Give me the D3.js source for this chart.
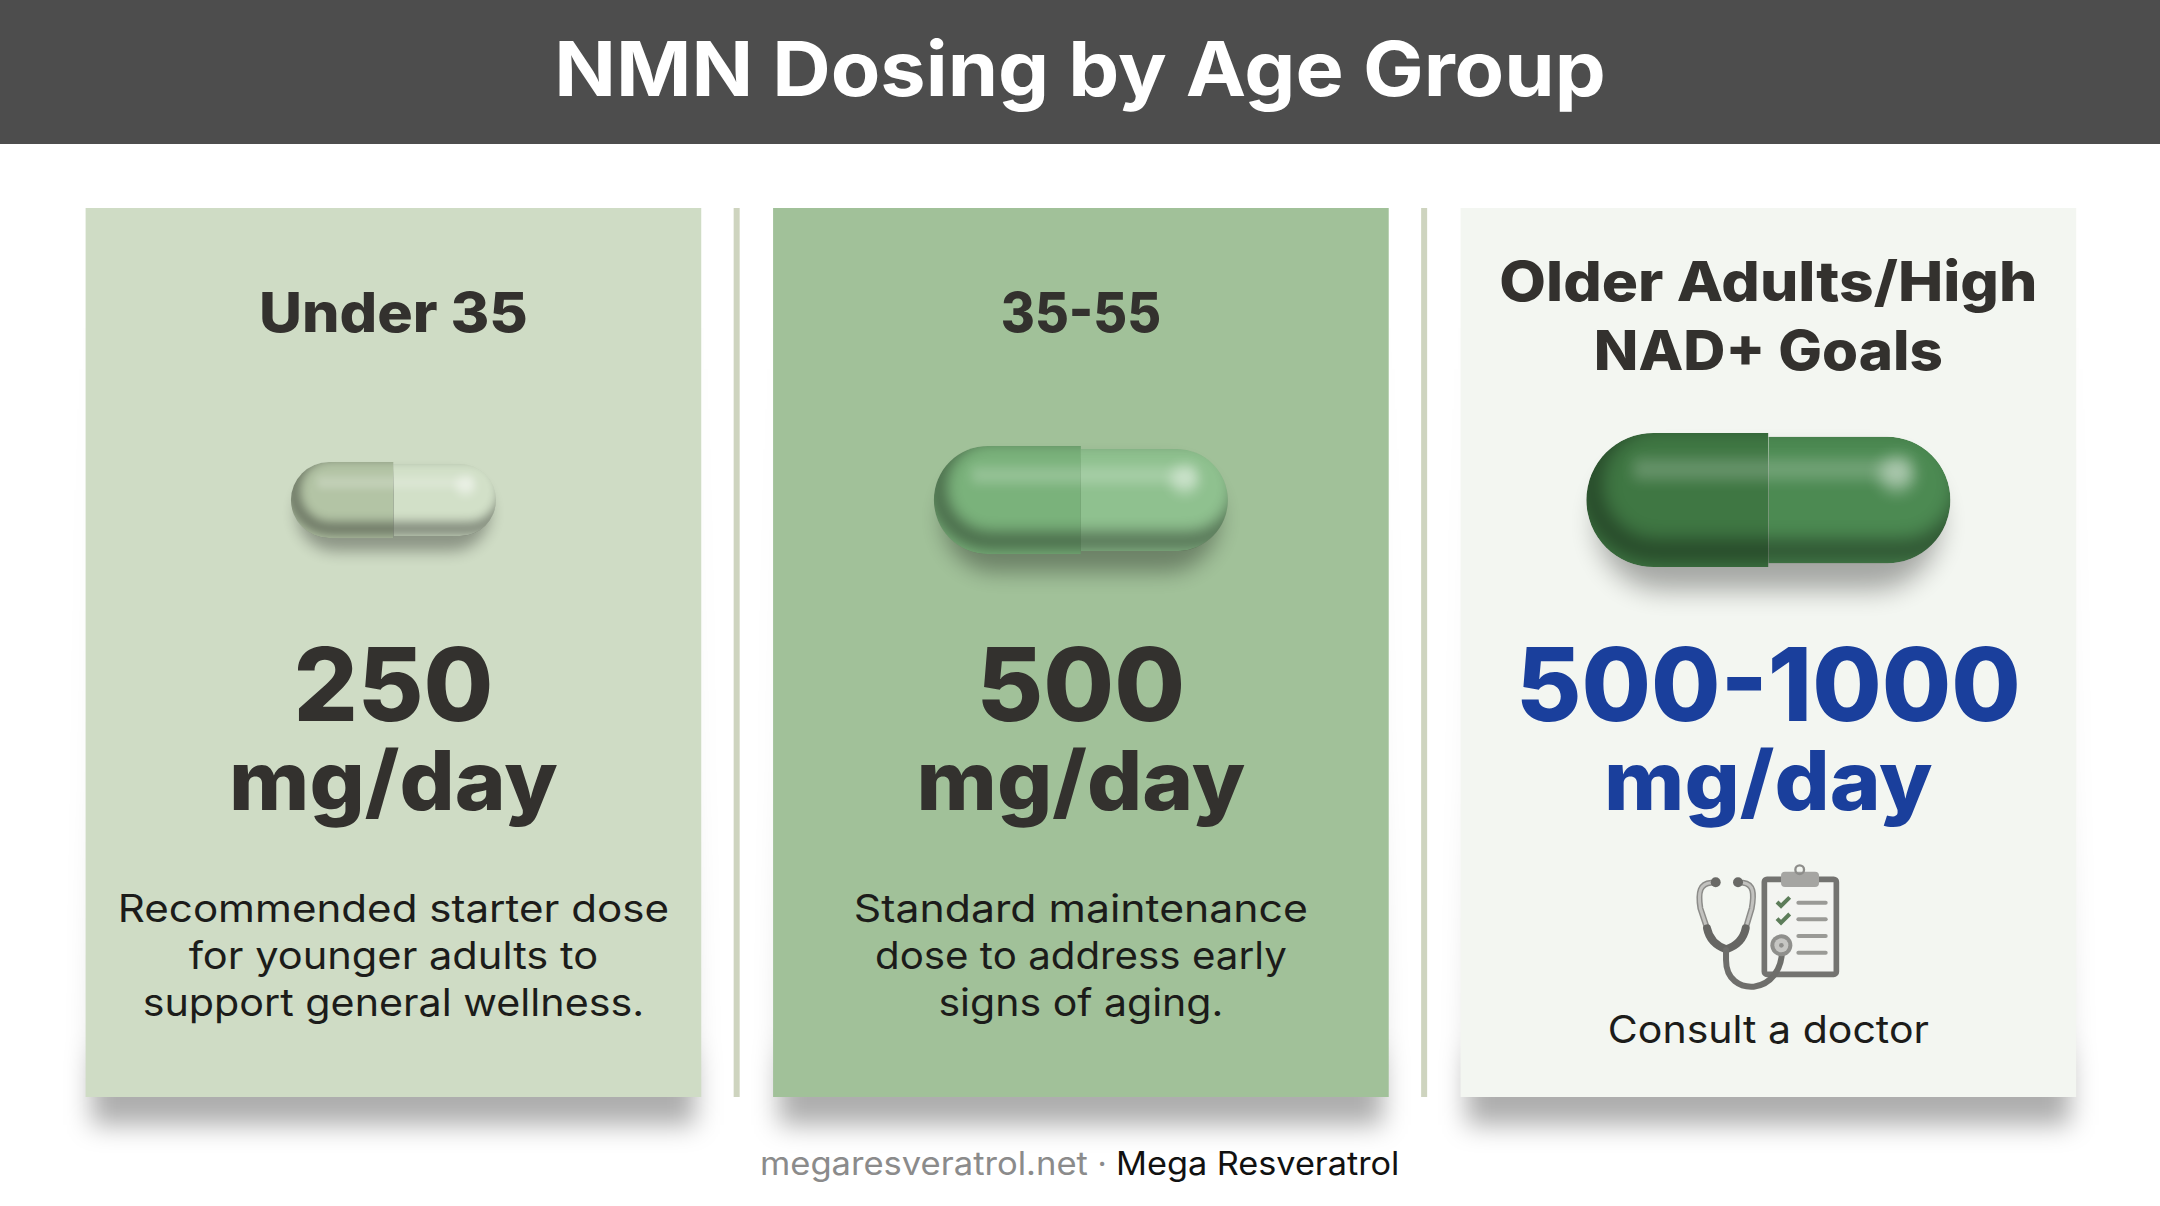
<!DOCTYPE html>
<html>
<head>
<meta charset="utf-8">
<script src="https://cdn.jsdelivr.net/npm/d3@7"></script>
<style>
html, body { margin: 0; padding: 0; background: #fff; }
svg { display: block; }
text { font-family: Inter, "Open Sans", sans-serif; }
</style>
</head>
<body>
<div id="chart"></div>
<script>
// chart content
const chartTitle = "NMN Dosing by Age Group";
const ageGroups = ["Under 35", "35-55", "Older Adults/High NAD+ Goals"];
const headingLines = [["Under 35"], ["35-55"], ["Older Adults/High", "NAD+ Goals"]];
const doseLabels = ["250", "500", "500-1000"];
const doseMaxMg = [250, 500, 1000];
const doseUnit = "mg/day";
const notes = [
    ["Recommended starter dose", "for younger adults to", "support general wellness."],
    ["Standard maintenance", "dose to address early", "signs of aging."],
    []
];
const doctorNote = "Consult a doctor";
const footerSite = "megaresveratrol.net";
const footerName = "Mega Resveratrol";

const width = 2160, height = 1206;
const cardTop = 208, cardBottom = 1097, pillY = 500;

// one colour set per card
const cardColors = ["#cfdcc5", "#a1c199", "#f3f6f1"];
const pillLeft = ["#b3c4a5", "#7ab27b", "#3f7743"];
const pillRight = ["#d2e0c8", "#8fc18f", "#4c8a52"];
const textColors = ["#33312e", "#33312e", "#1a3f9c"];

// horizontal fit of the installed font to the picture's wider one
const headingFit = [[1.075], [0.945], [1.1, 1.06]];
const doseFit = [0.99, 1.005, 0.985];
const noteFit = [[1.108, 1.095, 1.085], [1.125, 1.06, 1.08], []];

const x = d3.scaleBand().domain(ageGroups).range([85.6, 2076.2]).paddingInner(0.1045);
const pillWidth = d3.scaleLinear().domain([250, 500, 1000]).range([205, 294, 364]);
const pillHeight = d3.scaleLinear().domain([250, 500, 1000]).range([76, 108, 134]);

const svg = d3.select("#chart").append("svg").attr("width", width).attr("height", height);
const defs = svg.append("defs");

function blur(id, dev) {
    defs.append("filter").attr("id", id)
        .attr("x", "-40%").attr("y", "-80%").attr("width", "180%").attr("height", "260%")
        .append("feGaussianBlur").attr("stdDeviation", dev);
}
blur("blurCard", 13);
[0, 1, 2].forEach(i => {
    const h = pillHeight(doseMaxMg[i]);
    blur("blurPill" + i, h * 0.1);
    blur("blurRim" + i, h * 0.07);
    blur("blurBand" + i, h * 0.05);
    blur("blurShine" + i, h * 0.06);
});

const shadowFade = defs.append("linearGradient").attr("id", "shadowFade")
    .attr("x1", 0).attr("y1", 0).attr("x2", 0).attr("y2", 1);
[[0, 0], [0.6, 0.05], [0.9, 0.13], [0.93, 0.32], [1, 0.32]].forEach(s => {
    shadowFade.append("stop").attr("offset", s[0]).attr("stop-color", "#000").attr("stop-opacity", s[1]);
});

// stretch the glyphs a little, the installed fonts run narrower than the picture's
function addText(parent, str, px, py, size, weight, fill, stretch, anchor) {
    const t = parent.append("text")
        .attr("x", px).attr("y", py)
        .attr("text-anchor", anchor || "middle")
        .attr("font-size", size).attr("font-weight", weight)
        .attr("fill", fill).text(str);
    const len = t.node().getComputedTextLength();
    t.attr("textLength", len * stretch).attr("lengthAdjust", "spacingAndGlyphs");
    return t;
}

function halfPill(cx, h, w, side) {
    const r = h / 2, p = d3.path();
    p.moveTo(cx, -r);
    p.lineTo(cx + side * (w / 2 - r), -r);
    p.arc(cx + side * (w / 2 - r), 0, r, -Math.PI / 2, Math.PI / 2, side < 0);
    p.lineTo(cx, r);
    p.closePath();
    return p.toString();
}

// header
svg.append("rect").attr("width", width).attr("height", 144).attr("fill", "#4d4d4d");
addText(svg, chartTitle, width / 2, 96, 76, 700, "#fff", 1.065);

// dividers sit in the middle of the gaps
svg.selectAll(".divider").data(ageGroups.slice(0, 2)).join("rect")
    .attr("class", "divider")
    .attr("x", d => x(d) + x.step() - (x.step() - x.bandwidth()) / 2 - 3.5)
    .attr("y", cardTop).attr("width", 6).attr("height", cardBottom - cardTop)
    .attr("fill", "#ced4bf");

// card shadows and cards
svg.selectAll(".card-shadow").data(ageGroups).join("rect")
    .attr("class", "card-shadow")
    .attr("x", d => x(d) + 6).attr("y", cardTop + 60)
    .attr("width", x.bandwidth() - 12).attr("height", cardBottom - cardTop - 60 + 28)
    .attr("fill", "url(#shadowFade)")
    .attr("filter", "url(#blurCard)");
svg.selectAll(".card").data(ageGroups).join("rect")
    .attr("class", "card")
    .attr("x", d => x(d)).attr("y", cardTop)
    .attr("width", x.bandwidth()).attr("height", cardBottom - cardTop)
    .attr("fill", (d, i) => cardColors[i]);

ageGroups.forEach((group, i) => {
    const cx = x(group) + x.bandwidth() / 2;
    const g = svg.append("g");

    headingLines[i].forEach((line, j) => {
        const y = headingLines[i].length === 1 ? 332 : 301 + j * 69;
        addText(g, line, cx, y, 55, 800, "#33312e", headingFit[i][j]);
    });

    // capsule
    const w = pillWidth(doseMaxMg[i]), h = pillHeight(doseMaxMg[i]), r = h / 2;
    const pill = g.append("g").attr("transform", `translate(0,${pillY})`);
    pill.append("rect")
        .attr("x", cx - w / 2 + h * 0.08).attr("y", -h / 2 + h * 0.17)
        .attr("width", w - h * 0.16).attr("height", h)
        .attr("rx", r).attr("fill", "#000").attr("opacity", 0.32)
        .attr("filter", `url(#blurPill${i})`);

    const rightPath = halfPill(cx, h * 0.945, w, 1), leftPath = halfPill(cx, h, w, -1);
    const paint = (path, color, side) => {
        const id = `pillClip${i}${side}`;
        defs.append("clipPath").attr("id", id).append("path").attr("d", path);
        const part = pill.append("g").attr("clip-path", `url(#${id})`);
        part.append("path").attr("d", path).attr("fill", color);
        // light band along the top
        part.append("rect")
            .attr("x", cx - w / 2 + r * 0.7).attr("y", -h * 0.31)
            .attr("width", w - r * 1.3).attr("height", h * 0.16)
            .attr("fill", "#fff").attr("opacity", 0.2)
            .attr("filter", `url(#blurBand${i})`);
        // dark rim, pushed up and right so it gathers on the lower left
        part.append("rect")
            .attr("x", cx - w / 2 + h * 0.03).attr("y", -r - h * 0.12)
            .attr("width", w + h * 0.1).attr("height", h)
            .attr("rx", r).attr("fill", "none")
            .attr("stroke", "#000").attr("stroke-width", h * 0.16).attr("opacity", 0.42)
            .attr("filter", `url(#blurRim${i})`);
        return part;
    };
    const right = paint(rightPath, pillRight[i], "r");
    right.append("circle")
        .attr("cx", cx + w / 2 - h * 0.4).attr("cy", -h * 0.19).attr("r", h * 0.13)
        .attr("fill", "#fff").attr("opacity", 0.42)
        .attr("filter", `url(#blurShine${i})`);
    paint(leftPath, pillLeft[i], "l");

    // dose
    addText(g, doseLabels[i], cx, 721, 102, 800, textColors[i], doseFit[i]);
    addText(g, doseUnit, cx, 810, 82, 800, textColors[i], 1.057);

    // notes
    notes[i].forEach((line, j) => {
        addText(g, line, cx, 922 + j * 47, 38, 400, "#1c1c1a", noteFit[i][j]);
    });
});

// stethoscope and clipboard, drawn in a 3x grid like the zoomed icon
const iconX = x(ageGroups[2]) + x.bandwidth() / 2 - 208, iconY = 820;
const icon = svg.append("g").attr("transform", `translate(${iconX},${iconY}) scale(0.3333)`);
icon.append("rect").attr("x", 612).attr("y", 178).attr("width", 216).attr("height", 285).attr("rx", 8)
    .attr("fill", "#f3f4f1").attr("stroke", "#737370").attr("stroke-width", 17);
icon.append("rect").attr("x", 662).attr("y", 155).attr("width", 114).attr("height", 46).attr("rx", 12).attr("fill", "#a5a5a2");
icon.append("circle").attr("cx", 718).attr("cy", 149).attr("r", 13).attr("fill", "none").attr("stroke", "#8d8d8a").attr("stroke-width", 7);
[248, 298, 348, 398].forEach(y => {
    icon.append("line").attr("x1", 714).attr("x2", 796).attr("y1", y).attr("y2", y)
        .attr("stroke", "#9a9a96").attr("stroke-width", 12).attr("stroke-linecap", "round");
});
[0, 50].forEach(dy => {
    icon.append("path").attr("d", `M650 ${246 + dy} L662 ${258 + dy} L688 ${232 + dy}`)
        .attr("fill", "none").attr("stroke", "#5d7d5a").attr("stroke-width", 12);
});
const tube = (d, c, sw) => icon.append("path").attr("d", d).attr("fill", "none")
    .attr("stroke", c).attr("stroke-width", sw).attr("stroke-linecap", "round");
["M452 188 C420 190 412 215 420 265 L440 325", "M548 188 C580 192 582 220 574 265 L556 325"].forEach(d => {
    tube(d, "#8c8c89", 18);
    tube(d, "#c2c2bf", 9);
});
tube("M440 325 C448 365 475 380 497 388 C522 380 548 365 556 325", "#666663", 24);
tube("M497 390 L497 420 C497 480 540 503 580 500 C630 495 665 450 665 390", "#6e6e6b", 18);
icon.append("circle").attr("cx", 466).attr("cy", 187).attr("r", 15).attr("fill", "#696966");
icon.append("circle").attr("cx", 533).attr("cy", 187).attr("r", 15).attr("fill", "#696966");
icon.append("circle").attr("cx", 663).attr("cy", 376).attr("r", 33).attr("fill", "#8f8f8c");
icon.append("circle").attr("cx", 663).attr("cy", 376).attr("r", 21).attr("fill", "#c6c6c3");
icon.append("circle").attr("cx", 663).attr("cy", 376).attr("r", 7).attr("fill", "#8f8f8c");

addText(svg, doctorNote, x(ageGroups[2]) + x.bandwidth() / 2, 1043, 38, 400, "#1c1c1a", 1.08);

// footer
addText(svg, footerSite, 760, 1175, 32, 400, "#8b8b8b", 1.08, "start");
addText(svg, "·", 1102, 1175, 32, 400, "#8b8b8b", 1);
addText(svg, footerName, 1116, 1175, 32, 400, "#111", 1.07, "start");
</script>
</body>
</html>
